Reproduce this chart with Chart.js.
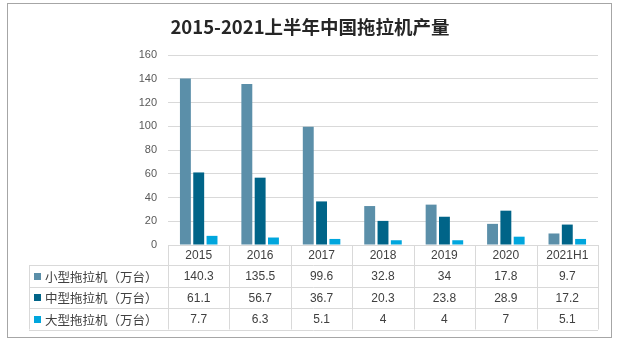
<!DOCTYPE html>
<html>
<head>
<meta charset="utf-8">
<script src="https://cdn.jsdelivr.net/npm/chart.js@4/dist/chart.umd.min.js"></script>
<style>
    body { margin: 0; background: #fff; }
    #wrap { width: 617px; height: 342px; position: relative; }
</style>
</head>
<body>
<div id="wrap"><canvas id="tractor-chart"></canvas></div>
<script>
/**
 * Data
 */
const title = "2015-2021上半年中国拖拉机产量";
const years = ["2015", "2016", "2017", "2018", "2019", "2020", "2021H1"];
const smallTractors = [140.3, 135.5, 99.6, 32.8, 34, 17.8, 9.7];
const mediumTractors = [61.1, 56.7, 36.7, 20.3, 23.8, 28.9, 17.2];
const largeTractors = [7.7, 6.3, 5.1, 4, 4, 7, 5.1];
const seriesNames = ["小型拖拉机（万台）", "中型拖拉机（万台）", "大型拖拉机（万台）"];
const seriesColors = ["#5B8FA9", "#006488", "#00A6DD"];

const cjkFont = "'Noto Sans CJK SC', 'Liberation Sans', sans-serif";
const numFont = "'Liberation Sans', 'DejaVu Sans', sans-serif";


/**
 * Frame, title and data table
 */
const tablePlugin = {
    id: 'tablePlugin',
    afterDraw(chart) {
        const ctx = chart.ctx;
        const area = chart.chartArea;
        const xScale = chart.scales.x;
        const colWidth = (area.right - area.left) / years.length;
        const tableLeft = 29;
        const headerTop = area.bottom;
        const rowLines = [265, 286.5, 308, 329.5];

        ctx.save();

        // outer frame
        ctx.strokeStyle = "#A6A6A6";
        ctx.lineWidth = 1;
        ctx.strokeRect(7.5, 3.5, 604, 334);

        // title
        ctx.fillStyle = "#262626";
        ctx.font = "bold 18.5px " + cjkFont;
        ctx.textAlign = "center";
        ctx.textBaseline = "middle";
        ctx.fillText(title, 310, 27);

        // table lines
        ctx.strokeStyle = "#D9D9D9";
        ctx.beginPath();
        ctx.moveTo(area.left, Math.round(headerTop) + 0.5);
        ctx.lineTo(area.right, Math.round(headerTop) + 0.5);
        for (const y of rowLines) {
            ctx.moveTo(tableLeft, Math.round(y) + 0.5);
            ctx.lineTo(area.right, Math.round(y) + 0.5);
        }
        for (let i = 0; i <= years.length; i++) {
            const x = Math.round(area.left + i * colWidth) + 0.5;
            ctx.moveTo(x, headerTop);
            ctx.lineTo(x, rowLines[rowLines.length - 1]);
        }
        ctx.moveTo(tableLeft + 0.5, rowLines[0]);
        ctx.lineTo(tableLeft + 0.5, rowLines[rowLines.length - 1]);
        ctx.stroke();

        // header row
        ctx.fillStyle = "#404040";
        ctx.font = "12px " + numFont;
        ctx.textAlign = "center";
        years.forEach((year, i) => {
            ctx.fillText(year, xScale.getPixelForValue(i), (headerTop + rowLines[0]) / 2 + 1);
        });

        // data rows
        chart.data.datasets.forEach((dataset, r) => {
            const yMid = (rowLines[r] + rowLines[r + 1]) / 2 + 1;
            ctx.fillStyle = seriesColors[r];
            ctx.fillRect(34, Math.round(yMid) - 4, 7, 7);
            ctx.fillStyle = "#404040";
            ctx.font = "12.5px " + cjkFont;
            ctx.textAlign = "left";
            ctx.fillText(dataset.label, 45, yMid);
            ctx.font = "12px " + numFont;
            ctx.textAlign = "center";
            dataset.data.forEach((value, i) => {
                ctx.fillText(String(value), xScale.getPixelForValue(i), yMid);
            });
        });

        ctx.restore();
    }
};


/**
 * Chart
 */
const tractorChart = initChart();

function initChart() {
    const ctx = document.getElementById('tractor-chart');

    return new Chart(ctx, {
        type: 'bar',
        data: {
            labels: years,
            datasets: [
                { label: seriesNames[0], data: smallTractors, backgroundColor: seriesColors[0] },
                { label: seriesNames[1], data: mediumTractors, backgroundColor: seriesColors[1] },
                { label: seriesNames[2], data: largeTractors, backgroundColor: seriesColors[2] }
            ]
        },
        options: {
            animation: false,
            responsive: true,
            maintainAspectRatio: false,
            layout: {
                padding: { top: 55, left: 0, right: 19, bottom: 97 }
            },
            datasets: {
                bar: {
                    categoryPercentage: 0.65,
                    barPercentage: 0.82
                }
            },
            scales: {
                x: {
                    ticks: { display: false },
                    grid: { display: false },
                    border: { display: false },
                    afterFit: function(scale) { scale.height = 0; }
                },
                y: {
                    min: 0,
                    max: 160,
                    ticks: {
                        stepSize: 20,
                        padding: 11,
                        color: "#595959",
                        font: { family: numFont, size: 11 }
                    },
                    grid: { color: "#D9D9D9", drawTicks: false },
                    border: { display: false },
                    afterFit: function(scale) { scale.width = 168; }
                }
            },
            plugins: {
                legend: { display: false },
                tooltip: { enabled: false }
            }
        },
        plugins: [tablePlugin]
    });
}
</script>
</body>
</html>
